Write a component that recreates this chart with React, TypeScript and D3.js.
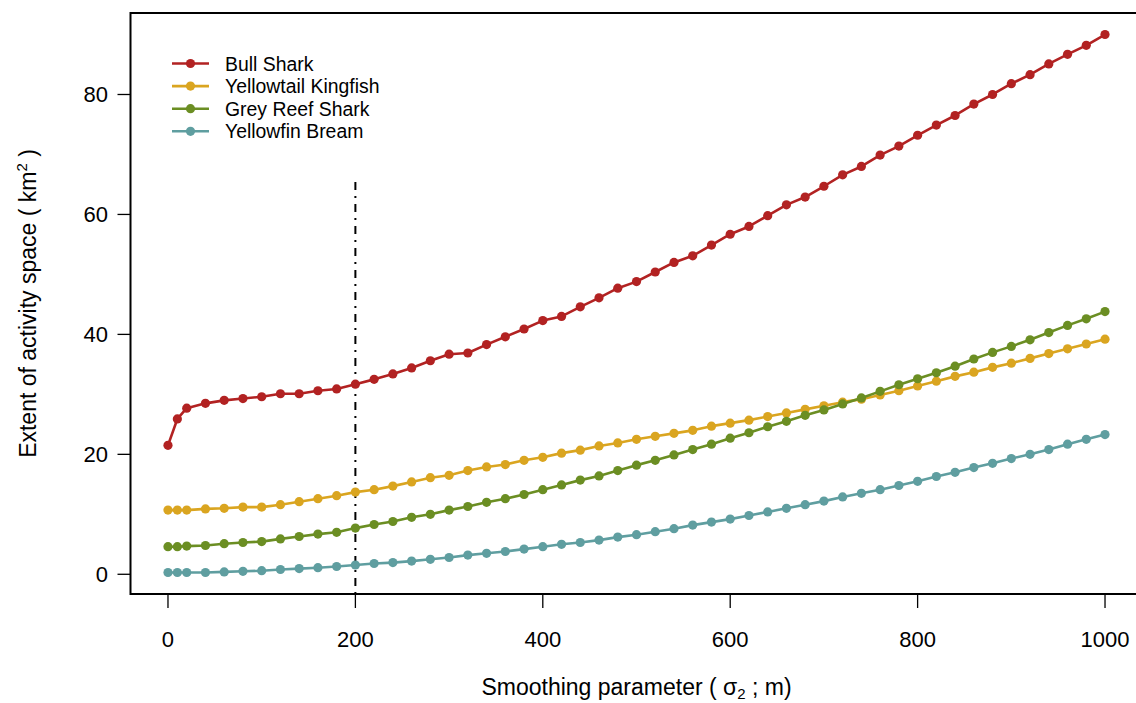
import React from "react";
import * as d3 from "d3";

const sigma: number[] = [0, 10, 20, 40, 60, 80, 100, 120, 140, 160, 180, 200, 220, 240, 260, 280, 300, 320, 340, 360, 380, 400, 420, 440, 460, 480, 500, 520, 540, 560, 580, 600, 620, 640, 660, 680, 700, 720, 740, 760, 780, 800, 820, 840, 860, 880, 900, 920, 940, 960, 980, 1000];

const bullShark: number[] = [21.5, 25.9, 27.7, 28.5, 29.0, 29.3, 29.6, 30.1, 30.1, 30.6, 30.9, 31.7, 32.5, 33.4, 34.4, 35.6, 36.7, 36.9, 38.3, 39.6, 40.9, 42.3, 43.0, 44.6, 46.1, 47.7, 48.8, 50.4, 52.0, 53.1, 54.9, 56.7, 58.0, 59.8, 61.6, 62.9, 64.7, 66.6, 68.0, 69.9, 71.4, 73.2, 74.9, 76.5, 78.4, 80.0, 81.8, 83.3, 85.1, 86.7, 88.2, 90.0];

const yellowtailKingfish: number[] = [10.7, 10.7, 10.7, 10.9, 11.0, 11.2, 11.2, 11.6, 12.1, 12.6, 13.1, 13.7, 14.1, 14.7, 15.4, 16.1, 16.5, 17.3, 17.9, 18.3, 19.0, 19.5, 20.2, 20.7, 21.4, 21.9, 22.5, 23.0, 23.5, 24.0, 24.7, 25.2, 25.7, 26.3, 26.9, 27.5, 28.1, 28.7, 29.2, 29.9, 30.6, 31.4, 32.2, 33.0, 33.7, 34.5, 35.2, 36.0, 36.8, 37.6, 38.4, 39.2];

const greyReefShark: number[] = [4.6, 4.6, 4.7, 4.8, 5.1, 5.3, 5.45, 5.9, 6.3, 6.7, 7.0, 7.7, 8.3, 8.8, 9.5, 10.0, 10.7, 11.3, 12.0, 12.6, 13.3, 14.1, 14.9, 15.7, 16.4, 17.3, 18.2, 19.0, 19.9, 20.8, 21.7, 22.7, 23.6, 24.6, 25.5, 26.5, 27.4, 28.4, 29.4, 30.5, 31.6, 32.6, 33.6, 34.7, 35.9, 37.0, 38.0, 39.1, 40.3, 41.5, 42.6, 43.8];

const yellowfinBream: number[] = [0.3, 0.3, 0.3, 0.3, 0.4, 0.5, 0.6, 0.8, 0.95, 1.1, 1.3, 1.55, 1.8, 1.95, 2.2, 2.5, 2.8, 3.2, 3.5, 3.8, 4.2, 4.6, 5.0, 5.3, 5.7, 6.2, 6.6, 7.1, 7.6, 8.2, 8.7, 9.2, 9.8, 10.4, 11.0, 11.6, 12.2, 12.9, 13.5, 14.1, 14.8, 15.5, 16.3, 17.0, 17.8, 18.5, 19.3, 20.0, 20.8, 21.7, 22.5, 23.3];

const seriesNames: string[] = ["Bull Shark", "Yellowtail Kingfish", "Grey Reef Shark", "Yellowfin Bream"];
const seriesColors: string[] = ["#B22222", "#DAA520", "#6B8E23", "#5F9EA0"];
const xTicks: number[] = [0, 200, 400, 600, 800, 1000];
const yTicks: number[] = [0, 20, 40, 60, 80];
const refLineX = 200;
const refLineTop = 66;

const FONT = "'Liberation Sans', Arial, Helvetica, sans-serif";

export default function App() {
  const W = 1136, H = 703;
  const left = 130.5, right = 1142.5, top = 13, bottom = 594;
  const allVals = [...bullShark, ...yellowtailKingfish, ...greyReefShark, ...yellowfinBream];
  const yMinD = d3.min(allVals)!, yMaxD = d3.max(allVals)!;
  const yPad = (yMaxD - yMinD) * 0.04;
  const xPad = (d3.max(sigma)! - d3.min(sigma)!) * 0.04;
  const x = d3.scaleLinear().domain([d3.min(sigma)! - xPad, d3.max(sigma)! + xPad]).range([left, right]);
  const y = d3.scaleLinear().domain([yMinD - yPad, yMaxD + yPad]).range([bottom, top]);

  const series = [bullShark, yellowtailKingfish, greyReefShark, yellowfinBream];
  const line = d3.line<number>().x((_, i) => x(sigma[i])).y((d) => y(d));

  const legendX0 = 172, legendX1 = 209, legendTextX = 225;
  const legendY0 = 63.5, legendStep = 22.6;

  return (
    <svg width={W} height={H} style={{ position: "absolute", left: 0, top: 0, background: "#fff" }} fontFamily={FONT}>
      <rect x={0} y={0} width={W} height={H} fill="#fff" />
      {/* reference line */}
      <line x1={x(refLineX)} x2={x(refLineX)} y1={bottom} y2={y(refLineTop)} stroke="#000" strokeWidth={2} strokeDasharray="2,6,8,6" />
      {/* series */}
      {series.map((s, k) => (
        <g key={k}>
          <path d={line(s) || ""} fill="none" stroke={seriesColors[k]} strokeWidth={2.6} strokeLinejoin="round" />
          {s.map((v, i) => (
            <circle key={i} cx={x(sigma[i])} cy={y(v)} r={4.6} fill={seriesColors[k]} />
          ))}
        </g>
      ))}
      {/* box */}
      <path d={`M${right},${top}H${left}V${bottom}H${right}`} fill="none" stroke="#000" strokeWidth={2} />
      <line x1={right} x2={right} y1={top} y2={bottom} stroke="#000" strokeWidth={2} />
      {/* x axis */}
      {xTicks.map((t) => (
        <g key={t}>
          <line x1={x(t)} x2={x(t)} y1={bottom} y2={bottom + 14} stroke="#000" strokeWidth={1.3} />
          <text x={x(t)} y={646.5} textAnchor="middle" fontSize={22} fill="#000">{t}</text>
        </g>
      ))}
      {/* y axis */}
      {yTicks.map((t) => (
        <g key={t}>
          <line x1={left} x2={left - 13} y1={y(t)} y2={y(t)} stroke="#000" strokeWidth={1.3} />
          <text x={108} y={y(t) + 8} textAnchor="end" fontSize={22} fill="#000">{t}</text>
        </g>
      ))}
      {/* axis titles */}
      <text x={(left + right) / 2} y={695} textAnchor="middle" fontSize={23} fill="#000">
        Smoothing parameter ( σ<tspan fontSize={15} dy={4}>2</tspan><tspan dy={-4}> ; m)</tspan>
      </text>
      <text transform={`translate(36,${(top + bottom) / 2}) rotate(-90)`} textAnchor="middle" fontSize={23} fill="#000">
        Extent of activity space ( km<tspan fontSize={15} dy={-9}>2</tspan><tspan dy={9}> )</tspan>
      </text>
      {/* legend */}
      {seriesNames.map((n, k) => {
        const ly = legendY0 + k * legendStep;
        return (
          <g key={n}>
            <line x1={legendX0} x2={legendX1} y1={ly} y2={ly} stroke={seriesColors[k]} strokeWidth={2.6} />
            <circle cx={(legendX0 + legendX1) / 2} cy={ly} r={4.6} fill={seriesColors[k]} />
            <text x={legendTextX} y={ly + 7} fontSize={19.4} fill="#000">{n}</text>
          </g>
        );
      })}
    </svg>
  );
}
